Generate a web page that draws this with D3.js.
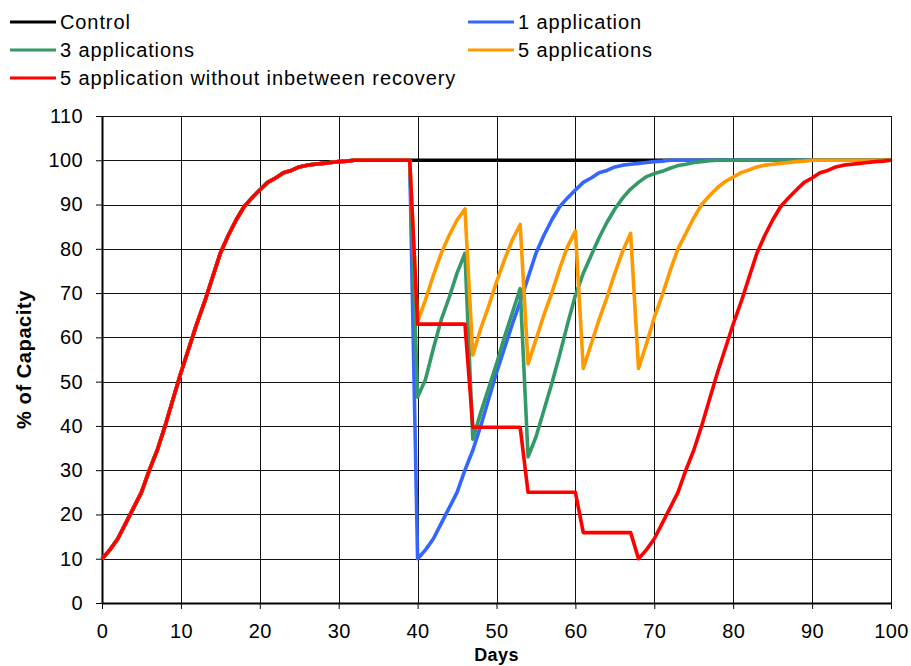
<!DOCTYPE html>
<html>
<head>
<meta charset="utf-8">
<script src="https://cdn.jsdelivr.net/npm/d3@7"></script>
<style>
  html, body { margin: 0; padding: 0; background: #fff; }
  svg { display: block; font-family: "Liberation Sans", Arial, sans-serif; }
</style>
</head>
<body>
<svg id="chart" width="911" height="666"></svg>
<script>
// Shared rise from day 0 to day 39 (identical for every treatment)
const rise = [10,12,14.5,18,21.5,25,30,34.5,40,46,52,57.5,63,68,73.5,79,83,86.5,89.5,91.5,
  93.3,95,96,97.2,97.7,98.5,98.9,99.1,99.3,99.5,99.7,99.8,100,100,100,100,100,100,100,100];

// Values from day 40 to day 100 for each treatment
const controlTail = [100,100,100,100,100,100,100,100,100,100,100,100,100,100,100,100,100,100,100,100,
  100,100,100,100,100,100,100,100,100,100,100,100,100,100,100,100,100,100,100,100,
  100,100,100,100,100,100,100,100,100,100,100,100,100,100,100,100,100,100,100,100,100];
const oneAppTail = [10,12,14.5,18,21.5,25,30,34.5,40,46,52,57.5,63,68,73.5,79,83,86.5,89.5,91.5,
  93.3,95,96,97.2,97.7,98.5,98.9,99.1,99.3,99.5,99.7,99.8,
  100,100,100,100,100,100,100,100,100,100,100,100,100,100,100,100,100,100,100,100,100,100,100,100,100,100,100];
const threeAppTail = [46.5,50.5,57.5,64,69,74.5,79, 37,43,48.5,54,60,65.5,71,
  33,37.5,43.5,49.5,56,63,69.5,74.5,78.5,82.5,86,89,91.5,93.5,95,96.3,97,97.5,98.2,98.8,99.1,99.5,99.7,99.9,
  100,100,100,100,100,100,100,100,100,100,100,100,100,100,100,100,100,100,100,100,100,100,100];
const fiveAppTail = [63.5,68.5,74,79,83,86.5,89, 56,62,67,72.5,77.5,82,85.5,
  54,59.5,65,70,75.5,80.5,84, 53,58.5,64,69,74.5,79.5,83.5,
  53,58.5,64.5,69.5,75,80,83.5,87,90,92,93.8,95.2,96.2,97.2,97.8,98.5,98.9,99.1,99.3,99.5,99.7,99.8,
  100,100,100,100,100,100,100,100,100,100,100];
const noRecoveryTail = [63,63,63,63,63,63,63, 39.7,39.7,39.7,39.7,39.7,39.7,39.7,
  25,25,25,25,25,25,25, 15.9,15.9,15.9,15.9,15.9,15.9,15.9,
  10,12,14.5,18,21.5,25,30,34.5,40,46,52,57.5,63,68,73.5,79,83,86.5,89.5,91.5,93.3,95,96,97.2,97.7,
  98.5,98.9,99.1,99.3,99.5,99.7,99.8,100];

const seriesNames = ["Control", "1 application", "3 applications", "5 applications",
  "5 application without inbetween recovery"];
const seriesColors = ["#000000", "#3366FF", "#339966", "#FF9900", "#FF0000"];
const seriesTails = [controlTail, oneAppTail, threeAppTail, fiveAppTail, noRecoveryTail];

const xTicks = [0,10,20,30,40,50,60,70,80,90,100];
const yTicks = [0,10,20,30,40,50,60,70,80,90,100,110];

const svg = d3.select("#chart");
const plotLeft = 102, plotRight = 891, plotTop = 116, plotBottom = 603;

const x = d3.scaleLinear().domain([0, 100]).range([plotLeft, plotRight]);
const y = d3.scaleLinear().domain([0, 110]).range([plotBottom, plotTop]);

// Grid
const grid = svg.append("g").attr("shape-rendering", "crispEdges");
grid.selectAll("line.h").data(yTicks.filter(v => v > 0)).join("line")
  .attr("x1", plotLeft).attr("x2", plotRight)
  .attr("y1", d => Math.round(y(d)) + 0.5).attr("y2", d => Math.round(y(d)) + 0.5)
  .attr("stroke", "#111").attr("stroke-width", 1);
grid.selectAll("line.v").data(xTicks.filter(v => v > 0)).join("line")
  .attr("y1", plotTop).attr("y2", plotBottom)
  .attr("x1", d => Math.round(x(d)) + 0.5).attr("x2", d => Math.round(x(d)) + 0.5)
  .attr("stroke", "#111").attr("stroke-width", 1);

// Axes
const yAxis = svg.append("g").attr("transform", `translate(${plotLeft},0)`)
  .call(d3.axisLeft(y).tickValues(yTicks).tickSize(6).tickPadding(13).tickSizeOuter(0));
const xAxis = svg.append("g").attr("transform", `translate(0,${plotBottom})`)
  .call(d3.axisBottom(x).tickValues(xTicks).tickSize(6).tickPadding(15).tickSizeOuter(0));
[yAxis, xAxis].forEach(g => {
  g.select(".domain").attr("stroke", "#000").attr("stroke-width", 2);
  g.selectAll(".tick line").attr("stroke", "#000").attr("stroke-width", 1);
  g.selectAll(".tick text").attr("fill", "#000")
    .style("font-family", '"Liberation Sans", Arial, sans-serif')
    .style("font-size", "20px").style("letter-spacing", "0.4px");
});

// Series lines: control first, the no-recovery series on top
const line = d3.line().x((d, i) => x(i)).y(d => y(d));
seriesTails.forEach((tail, k) => {
  const values = rise.concat(tail);
  svg.append("path").datum(values)
    .attr("fill", "none").attr("stroke", seriesColors[k])
    .attr("stroke-width", 3.6).attr("stroke-linejoin", "round")
    .attr("d", line);
});

// Axis titles
svg.append("text").attr("x", (plotLeft + plotRight) / 2).attr("y", 661)
  .attr("text-anchor", "middle").attr("font-weight", "bold").attr("font-size", 18)
  .style("letter-spacing", "0.4px").text("Days");
svg.append("text").attr("transform", `translate(31,${(plotTop + plotBottom) / 2}) rotate(-90)`)
  .attr("text-anchor", "middle").attr("font-weight", "bold").attr("font-size", 20)
  .style("letter-spacing", "0.6px").text("% of Capacity");

// Legend
const legendPos = [[10, 22], [468, 22], [10, 50], [468, 50], [10, 78]];
const legend = svg.append("g");
seriesNames.forEach((name, k) => {
  const [lx, ly] = legendPos[k];
  legend.append("line").attr("x1", lx).attr("x2", lx + 46).attr("y1", ly).attr("y2", ly)
    .attr("stroke", seriesColors[k]).attr("stroke-width", 3);
  legend.append("text").attr("x", lx + 50).attr("y", ly + 7)
    .attr("font-size", 20).style("letter-spacing", "0.9px").attr("fill", "#000").text(name);
});
</script>
</body>
</html>
